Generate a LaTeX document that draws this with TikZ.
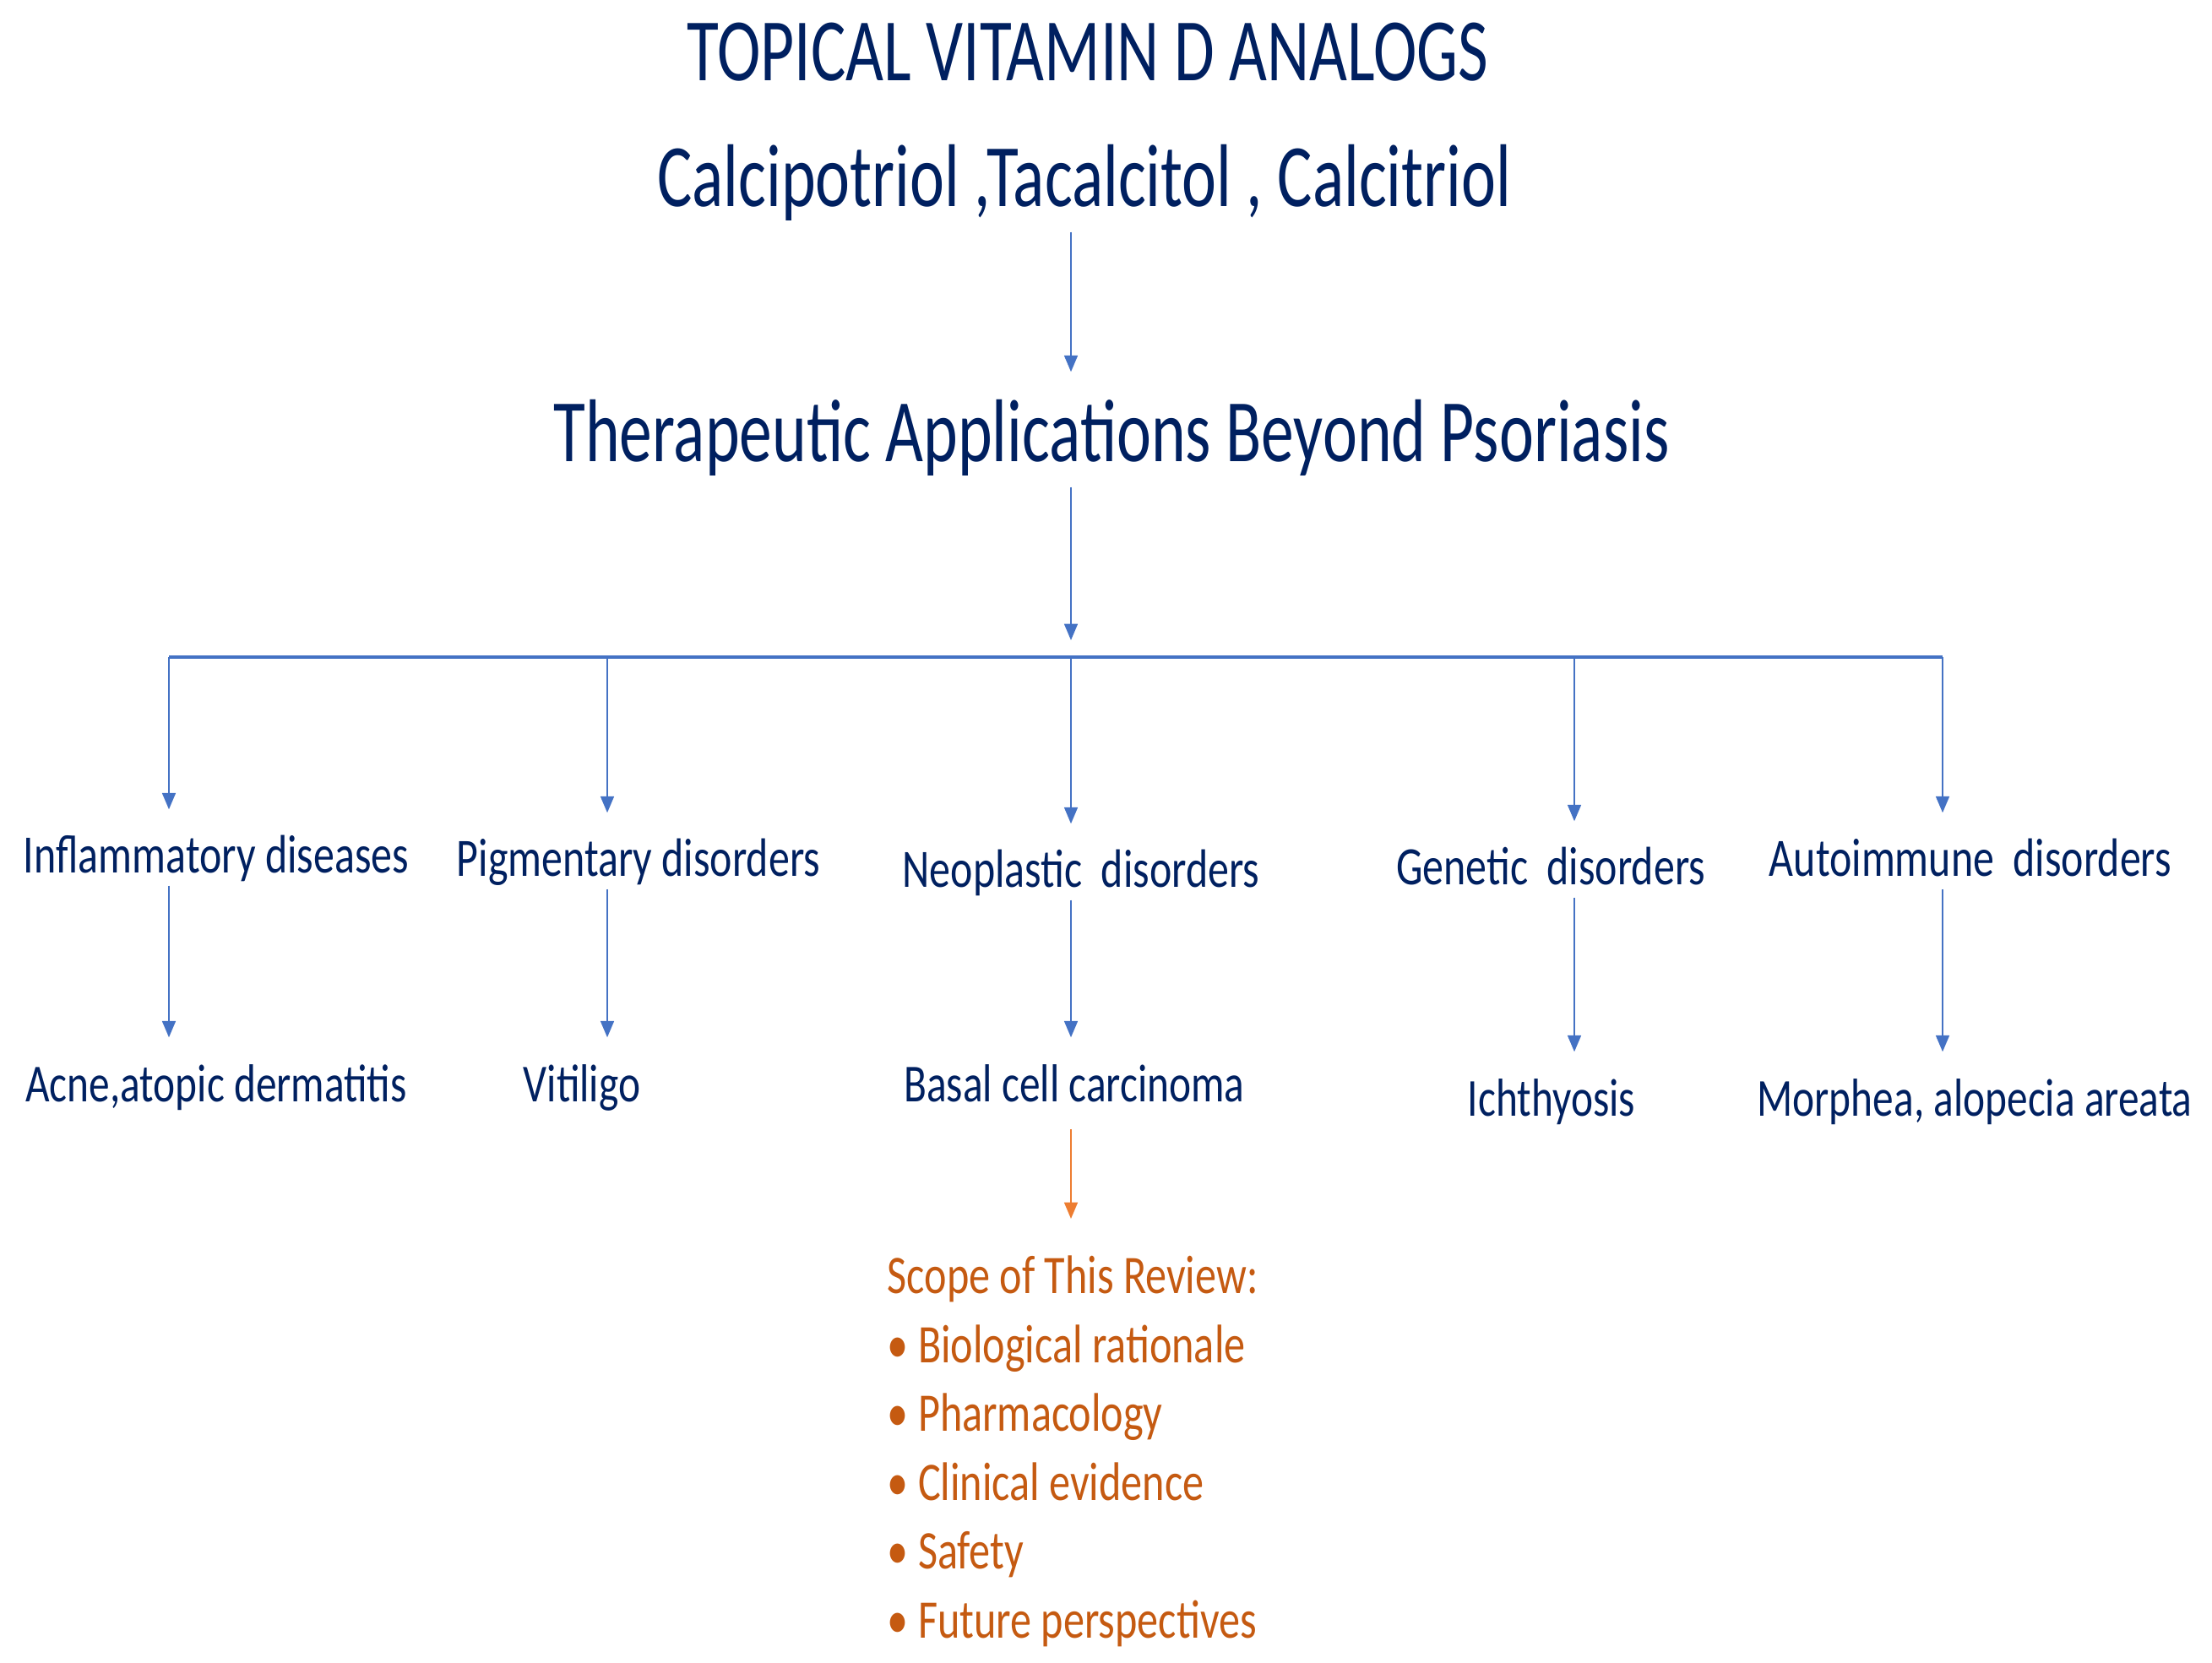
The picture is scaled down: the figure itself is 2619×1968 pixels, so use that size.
\documentclass[tikz,border=0pt]{standalone}
\usepackage{fontspec}
\setmainfont{Carlito}[FakeStretch=0.78]
\newfontfamily\headfont{Carlito}[FakeStretch=0.735]
\usepackage{xcolor}
\usepackage{tikz}
\usetikzlibrary{arrows.meta}
\definecolor{navy}{HTML}{002060}
\definecolor{arrowblue}{HTML}{4472C4}
\definecolor{rust}{HTML}{C55A11}
\definecolor{peach}{HTML}{ED7D31}
\tikzset{
  headLbl/.style={text=navy, font=\headfont\fontsize{30}{36}\selectfont, inner sep=0pt, text height=1.05cm, text depth=0.3cm, anchor=base},
  branchLbl/.style={text=navy, font=\fontsize{18.2}{22}\selectfont, inner sep=0pt, text height=0.74cm, text depth=0.15cm, anchor=base},
  leafLbl/.style={text=navy, font=\fontsize{18}{22}\selectfont, inner sep=0pt, text height=0.75cm, text depth=0.32cm, anchor=base},
  scopeLbl/.style={text=rust, font=\fontsize{18.3}{23.2}\selectfont, inner sep=0pt, align=left, anchor=north west},
  flow/.style={draw=arrowblue, line width=0.6pt, -{Triangle[length=5.5pt,width=4.5pt]}},
  bus/.style={draw=arrowblue, line width=1pt},
  scopeFlow/.style={draw=peach, line width=0.6pt, -{Triangle[length=5.5pt,width=4.5pt]}},
}

\begin{document}
\begin{tikzpicture}[x=0.01cm, y=-0.01cm]
  \useasboundingbox (0,0) rectangle (2619,1968);

  % Heading
  \node[headLbl] (title)   at (1288,95)  {TOPICAL VITAMIN D ANALOGS};
  \node[headLbl] (analogs) at (1284,244) {Calcipotriol ,Tacalcitol , Calcitriol};
  \node[headLbl] (apps)    at (1316,546) {Therapeutic Applications Beyond Psoriasis};

  % Bus
  \coordinate (stem) at (1268,778);
  \coordinate (b1) at (200,778);
  \coordinate (b2) at (719,778);
  \coordinate (b4) at (1864,778);
  \coordinate (b5) at (2300,778);

  \draw[flow] (stem |- analogs.south) -- (stem |- apps.north);
  \draw[flow, shorten >=0.2cm] (stem |- apps.south) -- (stem);
  \draw[bus] (b1) -- (b5);

  % Disease groups
  \node[branchLbl] (inflam)  at (256,1033)  {Inflammatory diseases};
  \node[branchLbl] (pigment) at (756,1037)  {Pigmentary disorders};
  \node[branchLbl] (neo)     at (1280,1050) {Neoplastic\ \ disorders};
  \node[branchLbl] (genetic) at (1836,1047) {Genetic\ \ disorders};
  \node[branchLbl] (autoimm) at (2333,1037) {Autoimmune\ \ disorders};

  \draw[flow] (b1) -- (b1 |- inflam.north);
  \draw[flow] (b2) -- (b2 |- pigment.north);
  \draw[flow] (stem) -- (stem |- neo.north);
  \draw[flow] (b4) -- (b4 |- genetic.north);
  \draw[flow] (b5) -- (b5 |- autoimm.north);

  % Examples
  \node[leafLbl] (acne)     at (256,1304)  {Acne,atopic dermatitis};
  \node[leafLbl] (vitiligo) at (689,1304)  {Vitiligo};
  \node[leafLbl] (bcc)      at (1272,1304) {Basal cell carcinoma};
  \node[leafLbl] (ichthy)   at (1837,1321) {Ichthyosis};
  \node[leafLbl] (morphea)  at (2338,1321) {Morphea, alopecia areata};

  \draw[flow] (b1 |- inflam.south) -- (b1 |- acne.north);
  \draw[flow] (b2 |- pigment.south) -- (b2 |- vitiligo.north);
  \draw[flow] (stem |- neo.south) -- (stem |- bcc.north);
  \draw[flow] (b4 |- genetic.south) -- (b4 |- ichthy.north);
  \draw[flow] (b5 |- autoimm.south) -- (b5 |- morphea.north);

  % Scope of the review
  \node[scopeLbl] (scope) at (1050,1486) {Scope of This Review:\\
    •~Biological rationale\\
    •~Pharmacology\\
    •~Clinical evidence\\
    •~Safety\\
    •~Future perspectives};

  \draw[scopeFlow, shorten >=0.43cm] (stem |- bcc.south) -- (stem |- scope.north);
\end{tikzpicture}
\end{document}
